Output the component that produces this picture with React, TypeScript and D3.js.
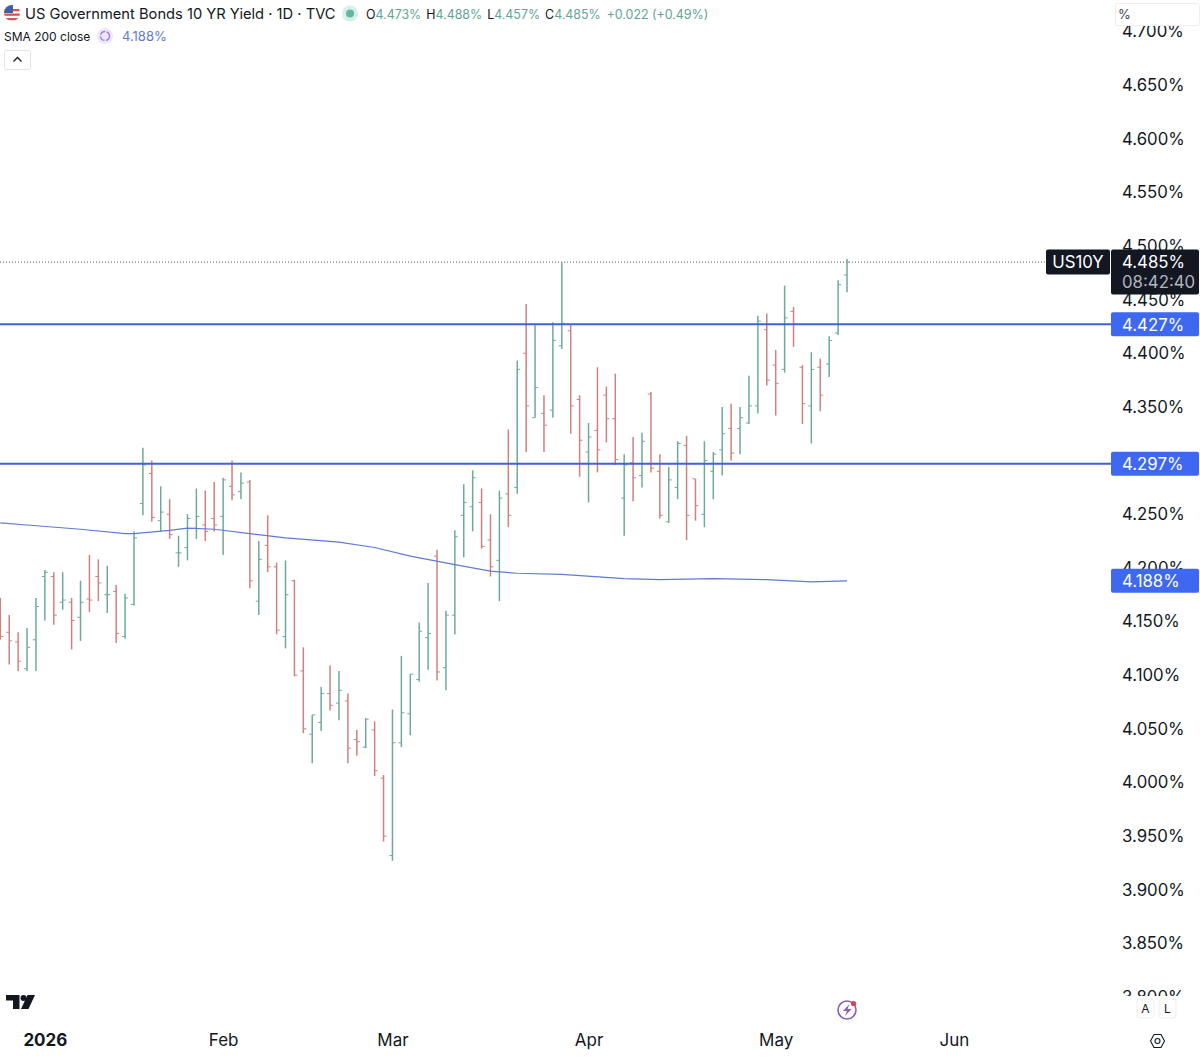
import { useEffect, useRef } from 'react';
import * as d3 from 'd3';

// one entry per trading day
const opens = [4.159, 4.14, 4.131, 4.106, 4.133, 4.192, 4.192, 4.168, 4.168, 4.154, 4.171, 4.192, 4.175, 4.178, 4.136, 4.166, 4.26, 4.288, 4.244, 4.25, 4.214, 4.219, 4.237, 4.24, 4.246, 4.248, 4.276, 4.271, 4.28, 4.169, 4.221, 4.201, 4.136, 4.188, 4.104, 4.045, 4.056, 4.083, 4.074, 4.076, 4.04, 4.033, 4.049, 4.004, 3.932, 4.037, 4.064, 4.096, 4.135, 4.211, 4.107, 4.156, 4.249, 4.257, 4.261, 4.226, 4.207, 4.269, 4.275, 4.4, 4.34, 4.344, 4.347, 4.407, 4.421, 4.357, 4.308, 4.328, 4.361, 4.339, 4.265, 4.298, 4.286, 4.362, 4.29, 4.243, 4.275, 4.314, 4.283, 4.25, 4.29, 4.31, 4.33, 4.33, 4.335, 4.351, 4.422, 4.389, 4.385, 4.439, 4.387, 4.351, 4.387, 4.39, 4.419, 4.473];
const highs = [4.172, 4.156, 4.14, 4.144, 4.172, 4.198, 4.196, 4.196, 4.172, 4.188, 4.212, 4.208, 4.202, 4.184, 4.176, 4.234, 4.312, 4.3, 4.276, 4.264, 4.23, 4.25, 4.274, 4.272, 4.28, 4.284, 4.3, 4.289, 4.282, 4.225, 4.249, 4.205, 4.207, 4.189, 4.126, 4.063, 4.089, 4.109, 4.104, 4.083, 4.049, 4.06, 4.057, 4.007, 4.068, 4.118, 4.101, 4.149, 4.186, 4.217, 4.16, 4.235, 4.278, 4.291, 4.274, 4.25, 4.272, 4.329, 4.393, 4.446, 4.427, 4.361, 4.429, 4.485, 4.427, 4.361, 4.335, 4.387, 4.369, 4.381, 4.306, 4.322, 4.326, 4.364, 4.306, 4.294, 4.318, 4.323, 4.283, 4.318, 4.308, 4.35, 4.353, 4.35, 4.379, 4.435, 4.437, 4.403, 4.463, 4.443, 4.389, 4.401, 4.395, 4.416, 4.468, 4.488];
const lows = [4.133, 4.11, 4.104, 4.104, 4.104, 4.151, 4.147, 4.161, 4.124, 4.132, 4.159, 4.169, 4.158, 4.13, 4.134, 4.165, 4.249, 4.243, 4.234, 4.227, 4.201, 4.207, 4.227, 4.225, 4.234, 4.212, 4.263, 4.264, 4.181, 4.156, 4.196, 4.138, 4.125, 4.099, 4.046, 4.018, 4.048, 4.067, 4.058, 4.018, 4.025, 4.032, 4.006, 3.945, 3.927, 4.033, 4.044, 4.094, 4.105, 4.095, 4.086, 4.138, 4.21, 4.234, 4.218, 4.192, 4.169, 4.238, 4.269, 4.308, 4.34, 4.308, 4.34, 4.404, 4.325, 4.285, 4.261, 4.289, 4.317, 4.296, 4.23, 4.262, 4.275, 4.289, 4.246, 4.242, 4.264, 4.226, 4.244, 4.238, 4.264, 4.286, 4.3, 4.306, 4.334, 4.344, 4.37, 4.342, 4.382, 4.406, 4.334, 4.316, 4.346, 4.378, 4.417, 4.457];
const closes = [4.136, 4.132, 4.113, 4.126, 4.164, 4.196, 4.156, 4.17, 4.151, 4.168, 4.17, 4.186, 4.175, 4.139, 4.172, 4.228, 4.296, 4.247, 4.252, 4.231, 4.214, 4.246, 4.248, 4.234, 4.24, 4.282, 4.268, 4.279, 4.188, 4.208, 4.201, 4.142, 4.175, 4.1, 4.05, 4.063, 4.083, 4.072, 4.086, 4.032, 4.038, 4.059, 4.011, 3.95, 4.037, 4.065, 4.101, 4.141, 4.139, 4.103, 4.156, 4.229, 4.261, 4.284, 4.22, 4.201, 4.265, 4.249, 4.385, 4.351, 4.368, 4.333, 4.412, 4.428, 4.351, 4.319, 4.322, 4.31, 4.339, 4.301, 4.296, 4.284, 4.318, 4.293, 4.249, 4.282, 4.316, 4.249, 4.258, 4.3, 4.306, 4.325, 4.307, 4.34, 4.351, 4.43, 4.375, 4.372, 4.433, 4.427, 4.353, 4.385, 4.361, 4.412, 4.464, 4.485];

// SMA 200 vertices
const smaDays = [0, 3, 9, 14, 15, 19, 21, 24, 28, 32, 38, 42, 46, 51, 55, 58, 63, 70, 74, 80, 86, 91, 95];
const smaValues = [4.242, 4.24, 4.236, 4.232, 4.232, 4.235, 4.237, 4.236, 4.232, 4.228, 4.224, 4.219, 4.211, 4.203, 4.197, 4.195, 4.194, 4.19, 4.189, 4.19, 4.189, 4.187, 4.188];

const levels = [4.427, 4.297];
const lastClose = 4.485;
const smaLast = 4.188;
const priceTicks = [4.7, 4.65, 4.6, 4.55, 4.5, 4.45, 4.4, 4.35, 4.3, 4.25, 4.2, 4.15, 4.1, 4.05, 4.0, 3.95, 3.9, 3.85, 3.8];
const monthDays = [5, 25, 44, 66, 87, 107];
const monthNames = ['2026', 'Feb', 'Mar', 'Apr', 'May', 'Jun'];

const FONT = 'Inter, "Noto Sans", sans-serif';
const UP = '#6fa99d';
const DOWN = '#cf8080';
const BLUE = '#3f62d8';
const LABEL_BLUE = '#3d68ef';
const DARK = '#131722';

export default function App() {
  const svgRef = useRef<SVGSVGElement>(null);

  useEffect(() => {
    if (!svgRef.current) return;
    document.body.style.margin = '0';

    const svg = d3.select(svgRef.current);
    svg.selectAll('*').remove();

    const x = d3.scaleLinear().domain([0, 95]).range([0.3, 847]);
    const y = d3.scaleLinear().domain([3.8, 4.7]).range([997.1, 31.4]);

    const defs = svg.append('defs');
    defs.append('clipPath').attr('id', 'pane').append('rect').attr('x', 0).attr('y', 0).attr('width', 1111).attr('height', 996);
    defs.append('clipPath').attr('id', 'scale').append('rect').attr('x', 1111).attr('y', 26).attr('width', 89).attr('height', 970);
    defs.append('clipPath').attr('id', 'flag').append('circle').attr('cx', 12).attr('cy', 13).attr('r', 8);

    // price scale
    const axis = d3
      .axisRight(y)
      .tickValues(priceTicks)
      .tickSize(0)
      .tickPadding(0)
      .tickFormat((d) => `${(+d).toFixed(3)}%`);
    const axisG = svg
      .append('g')
      .attr('clip-path', 'url(#scale)')
      .append('g')
      .attr('transform', 'translate(1122,0)')
      .call(axis);
    axisG.select('.domain').remove();
    axisG.selectAll('text').style('font-family', FONT).style('font-size', '16.8px').style('fill', DARK);

    const pane = svg.append('g').attr('clip-path', 'url(#pane)');

    // last price line
    pane
      .append('line')
      .attr('x1', 0)
      .attr('x2', 1046)
      .attr('y1', y(lastClose))
      .attr('y2', y(lastClose))
      .attr('stroke', '#555')
      .attr('stroke-width', 1)
      .attr('stroke-dasharray', '1 2');

    // OHLC bars
    const days = d3.range(opens.length);
    const color = (i: number) => (closes[i] >= opens[i] ? UP : DOWN);
    const bars = pane.append('g').selectAll('g').data(days).enter().append('g').attr('stroke', color).attr('stroke-width', 1.5);
    bars
      .append('line')
      .attr('x1', (i) => x(i))
      .attr('x2', (i) => x(i))
      .attr('y1', (i) => y(highs[i]))
      .attr('y2', (i) => y(lows[i]));
    bars
      .append('line')
      .attr('stroke-width', 1)
      .attr('x1', (i) => x(i) - 3)
      .attr('x2', (i) => x(i))
      .attr('y1', (i) => y(opens[i]))
      .attr('y2', (i) => y(opens[i]));
    bars
      .append('line')
      .attr('stroke-width', 1)
      .attr('x1', (i) => x(i))
      .attr('x2', (i) => x(i) + 3)
      .attr('y1', (i) => y(closes[i]))
      .attr('y2', (i) => y(closes[i]));

    // horizontal levels
    pane
      .selectAll('.level')
      .data(levels)
      .enter()
      .append('line')
      .attr('class', 'level')
      .attr('x1', 0)
      .attr('x2', 1111)
      .attr('y1', (d) => y(d))
      .attr('y2', (d) => y(d))
      .attr('stroke', BLUE)
      .attr('stroke-width', 2);

    // SMA
    const smaLine = d3
      .line<number>()
      .x((d) => x(d))
      .y((_, i) => y(smaValues[i]));
    pane
      .append('path')
      .attr('d', smaLine(smaDays))
      .attr('fill', 'none')
      .attr('stroke', '#5f7bd2')
      .attr('stroke-width', 1.2);

    // scale labels
    const blueLabels = [...levels, smaLast];
    const labelG = svg.append('g').style('font-family', FONT);
    blueLabels.forEach((v) => {
      labelG
        .append('rect')
        .attr('x', 1111)
        .attr('y', y(v) - 12)
        .attr('width', 88)
        .attr('height', 24)
        .attr('rx', 2)
        .attr('fill', LABEL_BLUE);
      labelG
        .append('text')
        .attr('x', 1122)
        .attr('y', y(v) + 6.2)
        .attr('font-size', 16.8)
        .attr('fill', '#fff')
        .text(`${v.toFixed(3)}%`);
    });
    labelG.append('rect').attr('x', 1046).attr('y', y(lastClose) - 12.5).attr('width', 64).attr('height', 25).attr('rx', 2).attr('fill', DARK);
    labelG.append('text').attr('x', 1078).attr('y', y(lastClose) + 6.2).attr('text-anchor', 'middle').attr('font-size', 16.8).attr('fill', '#fff').text('US10Y');
    labelG.append('rect').attr('x', 1111).attr('y', y(lastClose) - 12.5).attr('width', 88).attr('height', 45).attr('rx', 2).attr('fill', DARK);
    labelG.append('text').attr('x', 1122).attr('y', y(lastClose) + 6.2).attr('font-size', 16.8).attr('fill', '#fff').text(`${lastClose.toFixed(3)}%`);
    labelG.append('text').attr('x', 1122).attr('y', y(lastClose) + 26).attr('font-size', 16.8).attr('fill', '#b2b5be').text('08:42:40');

    // time axis
    const timeAxis = d3
      .axisBottom(x)
      .tickValues(monthDays)
      .tickSize(0)
      .tickPadding(0)
      .tickFormat((_, i) => monthNames[i]);
    const timeG = svg.append('g').attr('transform', 'translate(0,1034)').call(timeAxis);
    timeG.select('.domain').remove();
    timeG
      .selectAll('text')
      .style('font-family', FONT)
      .style('font-size', '17px')
      .style('fill', DARK)
      .style('font-weight', (_, i) => (i === 0 ? 700 : 400));

    // header
    const head = svg.append('g').style('font-family', FONT);
    const flag = head.append('g').attr('clip-path', 'url(#flag)');
    flag.append('rect').attr('x', 4).attr('y', 5).attr('width', 16).attr('height', 16).attr('fill', '#fff');
    d3.range(3).forEach((k) => {
      flag.append('rect').attr('x', 4).attr('y', 9 + k * 4.5).attr('width', 16).attr('height', 2.3).attr('fill', '#d9534f');
    });
    flag.append('rect').attr('x', 4).attr('y', 5).attr('width', 9).attr('height', 8).attr('fill', '#3c5fa8');

    head.append('text').attr('x', 25).attr('y', 19).attr('font-size', 14.7).attr('fill', DARK).text('US Government Bonds 10 YR Yield · 1D · TVC');
    head.append('circle').attr('cx', 350).attr('cy', 13.5).attr('r', 8).attr('fill', '#d6efe8');
    head.append('circle').attr('cx', 350).attr('cy', 13.5).attr('r', 4).attr('fill', '#62b8a2');

    const ohlc = head.append('text').attr('x', 366).attr('y', 18.5).attr('font-size', 12.4);
    const readout = [['O', '4.473%'], ['H', '4.488%'], ['L', '4.457%'], ['C', '4.485%']];
    readout.forEach(([k, v], i) => {
      ohlc.append('tspan').attr('dx', i === 0 ? 0 : 5).attr('fill', DARK).text(k);
      ohlc.append('tspan').attr('fill', '#5fa594').text(v);
    });
    ohlc.append('tspan').attr('dx', 6).attr('fill', '#5fa594').text('+0.022 (+0.49%)');

    head.append('text').attr('x', 4).attr('y', 40.5).attr('font-size', 12).attr('fill', DARK).text('SMA 200 close');
    head.append('circle').attr('cx', 105).attr('cy', 36).attr('r', 8).attr('fill', '#efe6f8');
    head.append('circle').attr('cx', 105).attr('cy', 36).attr('r', 4.5).attr('fill', 'none').attr('stroke', '#9c7fd6').attr('stroke-width', 1.3).attr('stroke-dasharray', '6 1.5');
    head.append('text').attr('x', 122).attr('y', 40.5).attr('font-size', 13).attr('fill', '#5f7bd2').text('4.188%');

    head.append('rect').attr('x', 4.5).attr('y', 50.5).attr('width', 26).attr('height', 19).attr('rx', 2).attr('fill', '#fff').attr('stroke', '#e0e3eb');
    head.append('path').attr('d', 'M13.5 61.5 L17.5 57.5 L21.5 61.5').attr('fill', 'none').attr('stroke', DARK).attr('stroke-width', 1.3);

    // % box
    head.append('rect').attr('x', 1115.5).attr('y', 3.5).attr('width', 84).attr('height', 22).attr('rx', 2).attr('fill', '#fff').attr('stroke', '#eceef2');
    head.append('text').attr('x', 1118).attr('y', 19).attr('font-size', 13).attr('fill', '#434651').text('%');

    // TradingView mark
    const tv = svg.append('g').attr('fill', DARK);
    tv.append('path').attr('d', 'M6 995 H19.5 V1009 H13 V1000.5 H6 Z');
    tv.append('circle').attr('cx', 23.5).attr('cy', 998).attr('r', 3);
    tv.append('path').attr('d', 'M27.5 995 H35 L28.5 1009 H21 Z');

    // bolt icon
    const bolt = svg.append('g');
    bolt.append('circle').attr('cx', 847).attr('cy', 1010).attr('r', 9).attr('fill', 'none').attr('stroke', '#8e5bb5').attr('stroke-width', 1.6);
    bolt.append('path').attr('d', 'M849.5 1004 L843 1011 H847 L845 1016 L851.5 1009 H847.5 Z').attr('fill', '#8e5bb5');
    bolt.append('circle').attr('cx', 853.5).attr('cy', 1003.5).attr('r', 2.6).attr('fill', '#d9434e');

    // A / L buttons
    const buttons = svg.append('g').style('font-family', FONT);
    [['A', 1137], ['L', 1159]].forEach(([t, bx]) => {
      buttons.append('rect').attr('x', +bx).attr('y', 999).attr('width', 17).attr('height', 19).attr('rx', 3).attr('fill', '#fff').attr('stroke', '#eceef2');
      buttons.append('text').attr('x', +bx + 8.5).attr('y', 1013).attr('text-anchor', 'middle').attr('font-size', 12).attr('fill', DARK).text(t as string);
    });

    // settings icon
    const gear = svg.append('g').attr('fill', 'none').attr('stroke', DARK).attr('stroke-width', 1.1);
    gear.append('path').attr('d', 'M1150.5 1041 L1154 1034.5 H1161 L1164.5 1041 L1161 1047.5 H1154 Z');
    gear.append('circle').attr('cx', 1157.5).attr('cy', 1041).attr('r', 2.5);
  }, []);

  return <svg ref={svgRef} width={1200} height={1058} style={{ position: 'absolute', left: 0, top: 0, background: '#fff' }} />;
}
